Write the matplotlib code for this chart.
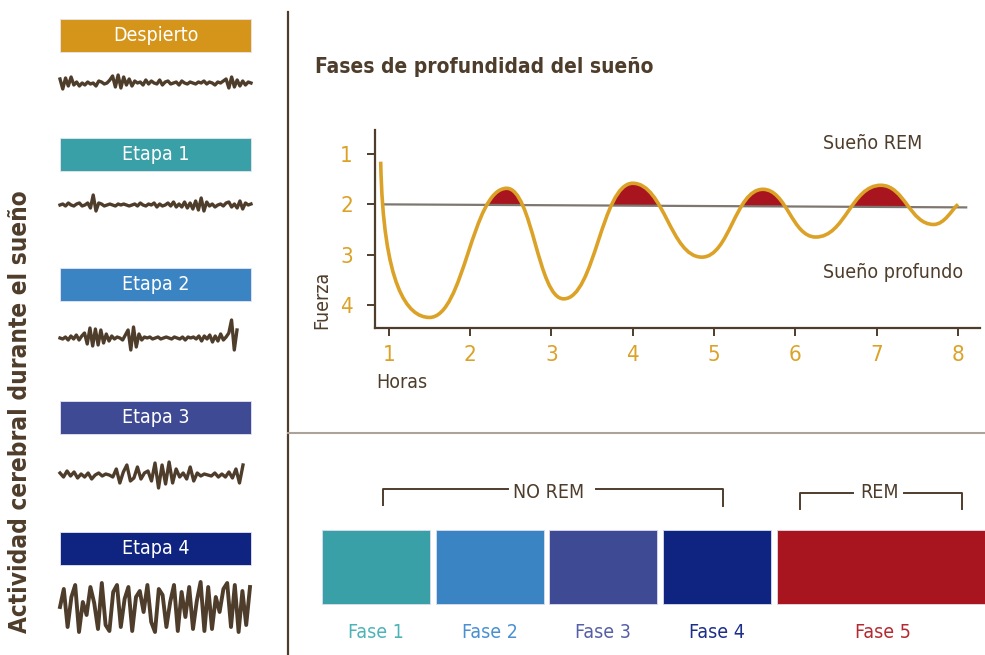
import matplotlib
matplotlib.use('Agg')
import matplotlib.pyplot as plt
import numpy as np
from matplotlib.path import Path
from matplotlib.patches import PathPatch, Rectangle

plt.rcParams['font.family'] = ['DejaVu Sans']
plt.rcParams['font.stretch'] = 'condensed'

# --- data -------------------------------------------------------------------
stage_names = ['Despierto', 'Etapa 1', 'Etapa 2', 'Etapa 3', 'Etapa 4']
stage_colors = ['#d4951a', '#3aa0a8', '#3a84c4', '#3f4a94', '#0f2480']

# EEG traces (pixel offsets)
eeg_despierto = [4, -6, 5, -3, 6, -2, 1, -3, 0, -2, 1, -1, 0, -3, 2, 1, -1, 0, 3, 7,
                 -4, 8, -5, 6, -2, 4, -3, 2, 0, 1, -2, 3, -1, 2, 0, -1, 3, -2, 1, 2,
                 -1, 0, 1, -2, 2, 0, -1, 1, 0, -1, 1, 0, 2, -1, 1, 0, -2, 1, 0, 2,
                 4, -5, 6, -4, 3, -3, 2, -2, 1, 0]
eeg_etapa1 = [0, 1, -1, 2, 0, -1, 1, 2, -1, 0, 2, -3, 10, -6, 2, 1, -1, 0, 1, 0,
              -1, 1, 0, 1, 0, -1, 0, 1, -1, 2, 0, -1, 1, 0, 2, -2, 1, -1, 0, 2,
              -1, 3, -2, 1, -2, 3, -3, 2, -4, 4, -5, 7, -6, 3, -1, 1, -2, 0, 1, -1,
              2, 3, -2, 1, -3, 4, -4, 2, 0, 1]
eeg_etapa2 = [0, -1, 1, -2, 2, -1, 3, -2, 2, 5, -6, 10, -8, 9, -7, 8, -5, 4, -3, 2,
              -1, 1, 0, -2, 3, 8, -12, 11, -9, 4, -2, 1, 0, 1, -1, 0, 1, -1, 0, 1,
              0, -1, 1, 0, -1, 1, -2, 1, 0, 1, -1, 2, -3, 2, -1, 3, -4, 2, -3, 4,
              -2, 1, 5, 18, -12, 8]
eeg_etapa3 = [2, -2, 4, -1, 3, -3, 1, -2, 2, -4, 0, 2, -1, 1, 0, -2, 6, -8, 3, 10,
              -6, -3, 8, -4, 2, 4, -6, 12, -13, 10, -9, 13, -8, 6, -2, 2, -4, 8, -6, 2,
              -1, 1, 0, -1, 2, -2, 1, -2, 3, -3, 6, -8, 10]
eeg_etapa4 = [0, 18, -20, 10, 22, -25, 5, -8, 20, 4, -22, 24, -18, -24, 15, 22, -20,
              8, 20, -24, 10, 16, -5, 22, -15, -25, 18, 12, -20, 5, 22, -24, 15, -10,
              20, -22, 6, 25, -24, 20, -22, 10, -5, 18, 24, -20, 22, -25, 16, -18, 20]
eeg_traces = [eeg_despierto, eeg_etapa1, eeg_etapa2, eeg_etapa3, eeg_etapa4]

# sleep-depth curve: turning points (hours, depth)
curve_hours = [0.9, 1.5, 2.45, 3.15, 4.0, 4.85, 5.6, 6.25, 7.05, 7.7, 8.0]
curve_depth = [1.15, 4.25, 1.68, 3.88, 1.58, 3.05, 1.70, 2.65, 1.62, 2.40, 2.0]
rem_line_hours = [0.95, 8.1]
rem_line_depth = [2.0, 2.06]

hour_ticks = [1, 2, 3, 4, 5, 6, 7, 8]
depth_ticks = [1, 2, 3, 4]

phase_names = ['Fase 1', 'Fase 2', 'Fase 3', 'Fase 4', 'Fase 5']
phase_colors = ['#3aa0a8', '#3a84c4', '#3f4a94', '#0f2480', '#a8151e']
phase_text_colors = ['#4db3b8', '#4a90d0', '#5560a8', '#1c2e8a', '#b52a32']

brown = '#4f3d2c'
gold = '#dba227'
red = '#a8151e'

# --- figure -----------------------------------------------------------------
fig = plt.figure(figsize=(9.85, 6.55), dpi=100)
fig.patch.set_facecolor('white')

bg = fig.add_axes([0, 0, 1, 1])
bg.set_xlim(0, 985)
bg.set_ylim(655, 0)
bg.axis('off')

# left column: stage boxes and EEG traces
box_tops = [19, 138, 268, 401, 532]
wave_y = [83, 205, 338, 475, 607]
wave_right = [251, 251, 237, 243, 250]
for name, col, top, wy, wr, trace in zip(stage_names, stage_colors, box_tops,
                                         wave_y, wave_right, eeg_traces):
    bg.add_patch(Rectangle((60, top), 191, 33, facecolor=col, edgecolor='#e8e4f0', lw=0.6))
    bg.text(155.5, top + 16.5, name, color='white', fontsize=14, ha='center', va='center')
    xs = np.linspace(60, wr, len(trace))
    lw = 2.8 if name == 'Etapa 4' else 2.4
    bg.plot(xs, wy - np.array(trace), color=brown, lw=lw, solid_joinstyle='round')

bg.text(20, 412, 'Actividad cerebral durante el sueño', rotation=90, color=brown,
        fontsize=17.5, fontweight='bold', ha='center', va='center')

# dividers
bg.plot([288, 288], [12, 655], color=brown, lw=1.6)
bg.plot([288, 985], [433, 433], color='#aaa39a', lw=1.5)

bg.text(315, 67, 'Fases de profundidad del sueño', color=brown, fontsize=15,
        fontweight='bold', ha='left', va='center')

# bottom: brackets and phase boxes
bg.plot([383, 383, 508], [505, 489, 489], color=brown, lw=1.4)
bg.plot([596, 723, 723], [489, 489, 506], color=brown, lw=1.4)
bg.text(549, 492, 'NO REM', color=brown, fontsize=14, ha='center', va='center')
bg.plot([800, 800, 853], [509, 493, 493], color=brown, lw=1.4)
bg.plot([904, 962, 962], [493, 493, 509], color=brown, lw=1.4)
bg.text(879, 493, 'REM', color=brown, fontsize=14, ha='center', va='center')

phase_left = [322, 436, 549, 663, 777]
phase_width = [108, 108, 108, 108, 215]
for name, col, tcol, x0, w in zip(phase_names, phase_colors, phase_text_colors,
                                  phase_left, phase_width):
    bg.add_patch(Rectangle((x0, 530), w, 74, facecolor=col, edgecolor='#dcdcf0', lw=0.6))
    cx = x0 + w / 2 if name != 'Fase 5' else 883
    bg.text(cx, 632, name, color=tcol, fontsize=14, ha='center', va='center')

# --- sleep depth chart ------------------------------------------------------
ax = fig.add_axes([375 / 985, (655 - 328) / 655, (980 - 375) / 985, (328 - 130) / 655])
ax.patch.set_alpha(0)
ax.set_xlim(0.83, 8.27)
ax.set_ylim(4.46, 0.52)

# smooth curve through turning points (bezier, horizontal tangents at extrema)
verts = [(curve_hours[0], curve_depth[0])]
codes = [Path.MOVETO]
n = len(curve_hours)
for i in range(n - 1):
    x0, y0 = curve_hours[i], curve_depth[i]
    x1, y1 = curve_hours[i + 1], curve_depth[i + 1]
    dx, dy = x1 - x0, y1 - y0
    if i == 0:
        c1 = (x0 + 0.05 * dx, y0 + 0.8 * dy)
    else:
        c1 = (x0 + 0.45 * dx, y0)
    if i == n - 2:
        c2 = (x1 - 0.25 * dx, y1 + 0.25 * (y0 - y1))
    else:
        c2 = (x1 - 0.45 * dx, y1)
    verts += [c1, c2, (x1, y1)]
    codes += [Path.CURVE4] * 3
curve_path = Path(verts, codes)

# region below the curve (deeper side) used as clip for REM humps
clip_verts = verts + [(curve_hours[-1], 4.46), (curve_hours[0], 4.46), verts[0]]
clip_codes = codes + [Path.LINETO, Path.LINETO, Path.CLOSEPOLY]
clip_patch = PathPatch(Path(clip_verts, clip_codes), transform=ax.transData,
                       facecolor='none', edgecolor='none')
ax.add_patch(clip_patch)

hump = ax.fill([1.2, rem_line_hours[1], rem_line_hours[1], 1.2],
               [2.0 + 0.06 * (1.2 - 0.95) / 7.15, rem_line_depth[1], 0.52, 0.52],
               color=red, lw=0, zorder=2)[0]
hump.set_clip_path(clip_patch)

ax.plot(rem_line_hours, rem_line_depth, color='#7d7770', lw=1.6, zorder=3)
ax.add_patch(PathPatch(curve_path, facecolor='none', edgecolor=gold, lw=2.6, zorder=4))

for s in ['top', 'right']:
    ax.spines[s].set_visible(False)
for s in ['left', 'bottom']:
    ax.spines[s].set_color(brown)
    ax.spines[s].set_linewidth(1.6)
ax.set_xticks(hour_ticks)
ax.set_yticks(depth_ticks)
ax.tick_params(axis='both', colors=brown, labelcolor=gold, labelsize=16,
               length=6, width=1.4)
ax.tick_params(axis='y', pad=10)
ax.tick_params(axis='x', pad=6)

ax.text(6.34, 0.78, 'Sueño REM', color=brown, fontsize=14, ha='left', va='center')
ax.text(6.34, 3.36, 'Sueño profundo', color=brown, fontsize=14, ha='left', va='center')

bg.text(376, 383, 'Horas', color=brown, fontsize=14, ha='left', va='center')
bg.text(322, 300, 'Fuerza', color=brown, fontsize=14, rotation=90, ha='center', va='center')

fig.savefig('out.png', dpi=100, facecolor='white')
